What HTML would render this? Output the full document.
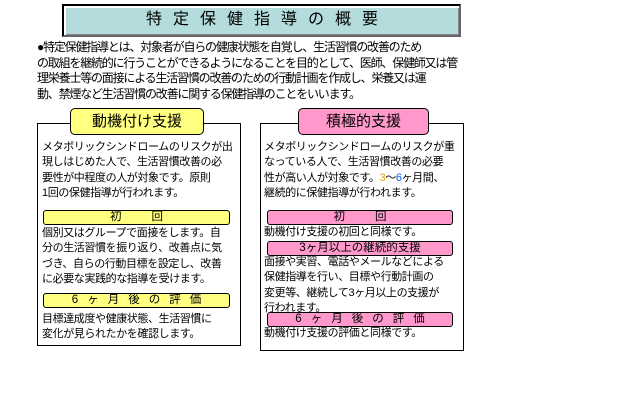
<!DOCTYPE html>
<html><head><meta charset="utf-8"><style>
body{margin:0;width:640px;height:400px;background:#fff;position:relative;overflow:hidden;font-family:"Liberation Sans","Noto Sans CJK JP",sans-serif;color:#000}
div{position:absolute;box-sizing:border-box;white-space:nowrap}
.t{font-size:11px;letter-spacing:-0.4px;line-height:15.3px}
.bar{border:1px solid #000;border-radius:3px;font-size:11.5px;line-height:13px;text-align:center;letter-spacing:0}
.y{background:#ffff80}.p{background:#ff99cc}
</style></head><body>
<div style="left:62px;top:4px;width:399px;height:33px;background:#b4dcdc;border:2px solid #000;border-right-color:#666;border-bottom-color:#666;box-shadow:inset 2px 2px 0 #fff,inset -1px -1px 0 #888"></div>
<div style="left:62px;top:8px;width:399px;text-align:center;font-size:16px;line-height:24px;letter-spacing:11px;padding-left:12px">特定保健指導の概要</div>
<div style="left:37px;top:40px;font-size:12px;line-height:15.5px;letter-spacing:-1.2px">●特定保健指導とは、対象者が自らの健康状態を自覚し、生活習慣の改善のため<br>の取組を継続的に行うことができるようになることを目的として、医師、保健師又は管<br>理栄養士等の面接による生活習慣の改善のための行動計画を作成し、栄養又は運<br>動、禁煙など生活習慣の改善に関する保健指導のことをいいます。</div>

<div style="left:37px;top:123px;width:204px;height:223px;border:1px solid #000"></div>
<div style="left:70px;top:108px;width:134px;height:27px;border:1px solid #000;border-radius:5px;background:#ffff80;font-size:15px;line-height:25px;text-align:center">動機付け支援</div>
<div class="t" style="left:42px;top:140px">メタボリックシンドロームのリスクが出<br>現しはじめた人で、生活習慣改善の必<br>要性が中程度の人が対象です。原則<br>1回の保健指導が行われます。</div>
<div class="bar y" style="left:43px;top:210px;width:187px;height:15px;letter-spacing:30px;padding-left:30px">初回</div>
<div class="t" style="left:42px;top:226px">個別又はグループで面接をします。自<br>分の生活習慣を振り返り、改善点に気<br>づき、自らの行動目標を設定し、改善<br>に必要な実践的な指導を受けます。</div>
<div class="bar y" style="left:43px;top:293px;width:187px;height:15px;letter-spacing:9px;padding-left:9px">6ヶ月後の評価</div>
<div class="t" style="left:42px;top:312px">目標達成度や健康状態、生活習慣に<br>変化が見られたかを確認します。</div>

<div style="left:260px;top:123px;width:204px;height:228px;border:1px solid #000"></div>
<div style="left:298px;top:108px;width:131px;height:27px;border:1px solid #000;border-radius:5px;background:#ff99cc;font-size:15px;line-height:25px;text-align:center">積極的支援</div>
<div class="t" style="left:264px;top:140px">メタボリックシンドロームのリスクが重<br>なっている人で、生活習慣改善の必要<br>性が高い人が対象です。<span style="color:#e8a000">3</span>～<span style="color:#0060ff">6</span>ヶ月間、<br>継続的に保健指導が行われます。</div>
<div class="bar p" style="left:267px;top:210px;width:186px;height:15px;letter-spacing:30px;padding-left:30px">初回</div>
<div class="t" style="left:264px;top:225px">動機付け支援の初回と同様です。</div>
<div class="bar p" style="left:267px;top:241px;width:186px;height:15px">3ヶ月以上の継続的支援</div>
<div class="t" style="left:264px;top:255px">面接や実習、電話やメールなどによる<br>保健指導を行い、目標や行動計画の<br>変更等、継続して3ヶ月以上の支援が<br>行われます。</div>
<div class="bar p" style="left:267px;top:312px;width:186px;height:15px;letter-spacing:9px;padding-left:9px">6ヶ月後の評価</div>
<div class="t" style="left:264px;top:326px">動機付け支援の評価と同様です。</div>
</body></html>
